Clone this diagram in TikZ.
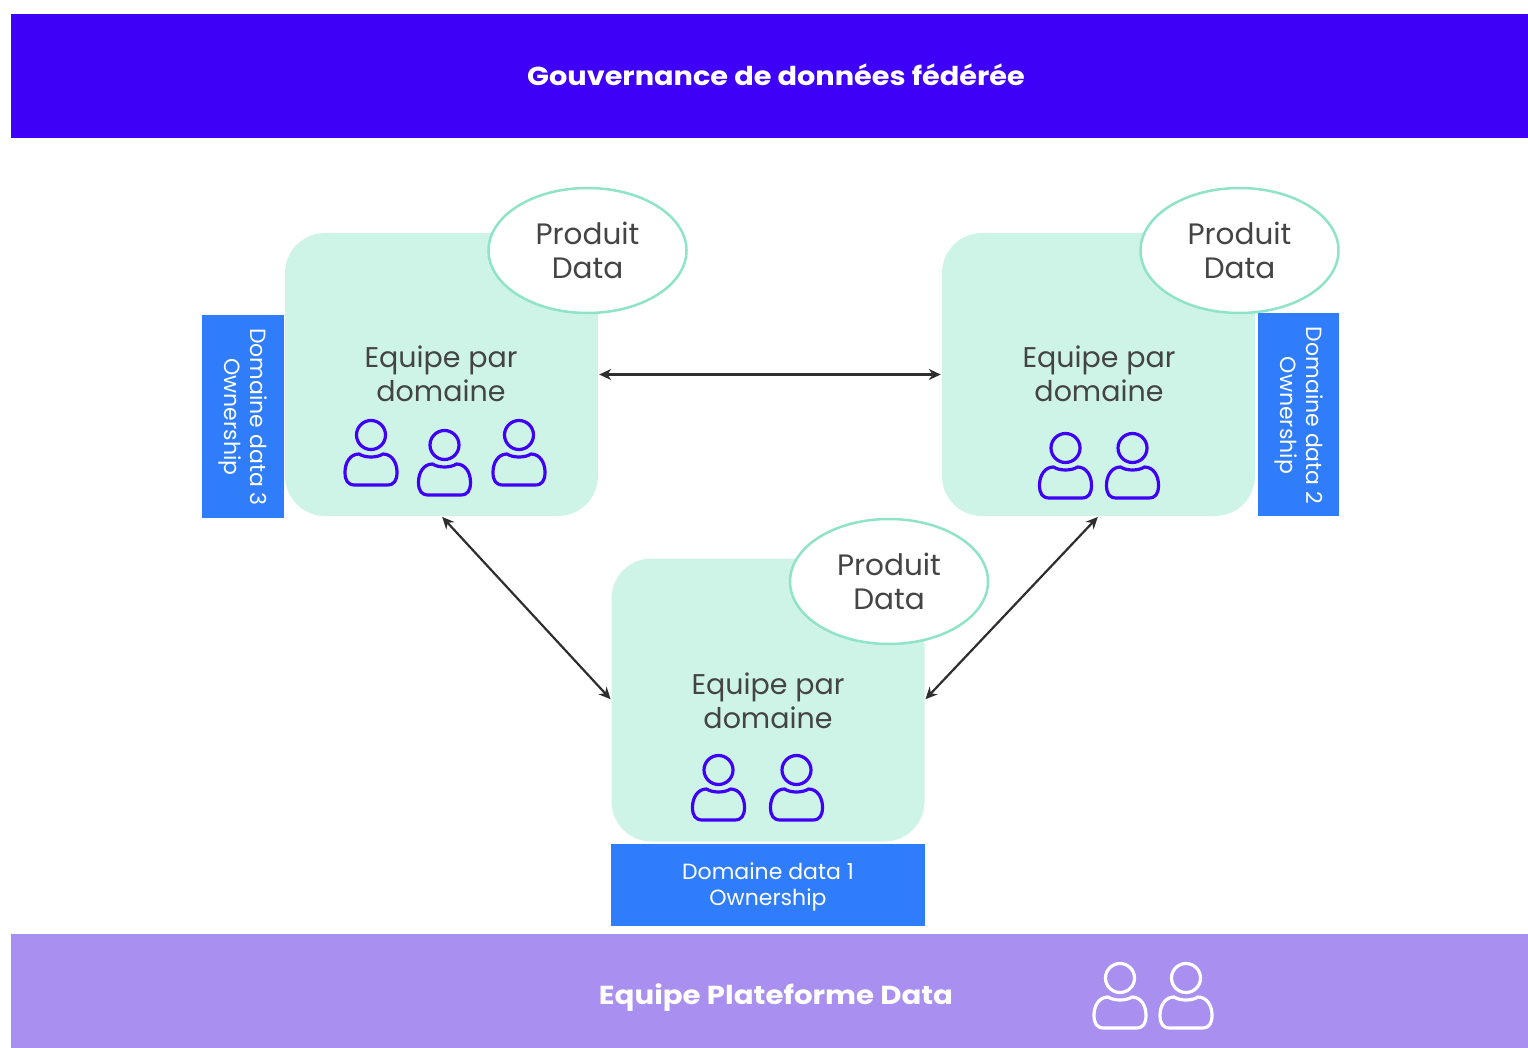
\documentclass[tikz,border=0pt]{standalone}
\usepackage{fontspec}
\setmainfont{Poppins}
\usetikzlibrary{shapes.geometric,arrows.meta}
\definecolor{banner}{HTML}{3F00F8}
\definecolor{platform}{HTML}{A98FF0}
\definecolor{tealfill}{HTML}{CEF4E8}
\definecolor{tealline}{HTML}{8FE3C8}
\definecolor{ownblue}{HTML}{2F7DFB}
\definecolor{inktext}{HTML}{444444}
\definecolor{arrowink}{HTML}{2E2E2E}
\tikzset{
  x=1pt,y=-1pt,
  bandbox/.style={draw=none,inner sep=0pt,minimum width=1517pt},
  bandtext/.style={inner sep=0pt,text=white},
  domainbox/.style={draw=none,fill=tealfill,rounded corners=40pt,inner sep=0pt,minimum width=313pt,minimum height=283pt},
  productoval/.style={ellipse,draw=tealline,line width=2.5pt,fill=white,inner sep=0pt,minimum width=198pt,minimum height=125pt,align=center,text=inktext,font=\fontsize{29.5}{34}\selectfont},
  ownbox/.style={draw=none,fill=ownblue,inner sep=0pt,align=center,text=white,font=\fontsize{22}{26}\selectfont},
  teamlabel/.style={inner sep=0pt,align=center,text=inktext,font=\fontsize{28.5}{34}\selectfont},
  link/.style={draw=arrowink,line width=2.2pt,{Stealth[length=12pt,width=11pt]}-{Stealth[length=12pt,width=11pt]},shorten <=1pt,shorten >=1pt},
  pics/person/.style={code={
    \draw[line width=3.2pt,draw=#1] (0,0) circle[radius=14.5];
    \draw[line width=3.2pt,draw=#1,line join=round]
      (-12,19) .. controls (-6,23) and (6,23) .. (12,19)
      .. controls (21,19) and (26,28) .. (26,37)
      .. controls (26,46) and (23,50) .. (16,50)
      -- (-16,50)
      .. controls (-23,50) and (-26,46) .. (-26,37)
      .. controls (-26,28) and (-21,19) .. (-12,19) -- cycle;
  }}
}
\begin{document}
\begin{tikzpicture}
\useasboundingbox (0,0) rectangle (1528,1048);
% bands
\node[bandbox,fill=banner,minimum height=124pt] (gov) at (769.5,76) {};
\node[bandtext,font={\fontsize{26}{30}\fontspec{Poppins}[FakeStretch=1.106,FakeBold=0]\bfseries}] (govt) at (776,74.5) {Gouvernance de données fédérée};
\node[bandbox,fill=platform,minimum height=114pt] (plat) at (769.5,991) {};
\node[bandtext,font={\fontsize{26}{30}\fontspec{Poppins}[FakeStretch=1.124,FakeBold=0]\bfseries}] (platt) at (776,998) {Equipe Plateforme Data};
% ownership boxes
\node[ownbox,minimum width=82pt,minimum height=203pt] (own3) at (243,416.5) {};
\node[ownbox,rotate=-90] (own3t) at (243,417) {Domaine data 3\\Ownership};
\node[ownbox,minimum width=81pt,minimum height=203pt] (own2) at (1298.5,414.5) {};
\node[ownbox,rotate=-90] (own2t) at (1298.5,415.5) {Domaine data 2\\Ownership};
\node[ownbox,minimum width=314pt,minimum height=82pt] (own1) at (768,885) {};
\node[ownbox,fill=none] (own1t) at (768,887) {Domaine data 1\\Ownership};
% domain boxes
\node[domainbox] (dom3) at (441.5,374.5) {};
\node[domainbox] (dom2) at (1098.5,374.5) {};
\node[domainbox] (dom1) at (768,700) {};
% product ovals
\node[productoval] (prod3) at (587.5,250.5) {Produit\\Data};
\node[productoval] (prod2) at (1239.5,250.5) {Produit\\Data};
\node[productoval] (prod1) at (889,581.5) {Produit\\Data};
% team labels
\node[teamlabel] (team3) at (441,374) {Equipe par\\domaine};
\node[teamlabel] (team2) at (1099,374) {Equipe par\\domaine};
\node[teamlabel] (team1) at (768,701) {Equipe par\\domaine};
% people
\pic at (371,435) {person=banner};
\pic at (444.5,445) {person=banner};
\pic at (519,435) {person=banner};
\pic at (1065.5,448) {person=banner};
\pic at (1132.5,448) {person=banner};
\pic at (718.5,770) {person=banner};
\pic at (796.5,770) {person=banner};
\pic at (1120,978) {person=white};
\pic at (1186,978) {person=white};
% connectors
\draw[link] (dom3.east) -- (dom2.west);
\draw[link] (dom3.south) -- (dom1.west);
\draw[link] (dom2.south) -- (dom1.east);
\end{tikzpicture}
\end{document}
